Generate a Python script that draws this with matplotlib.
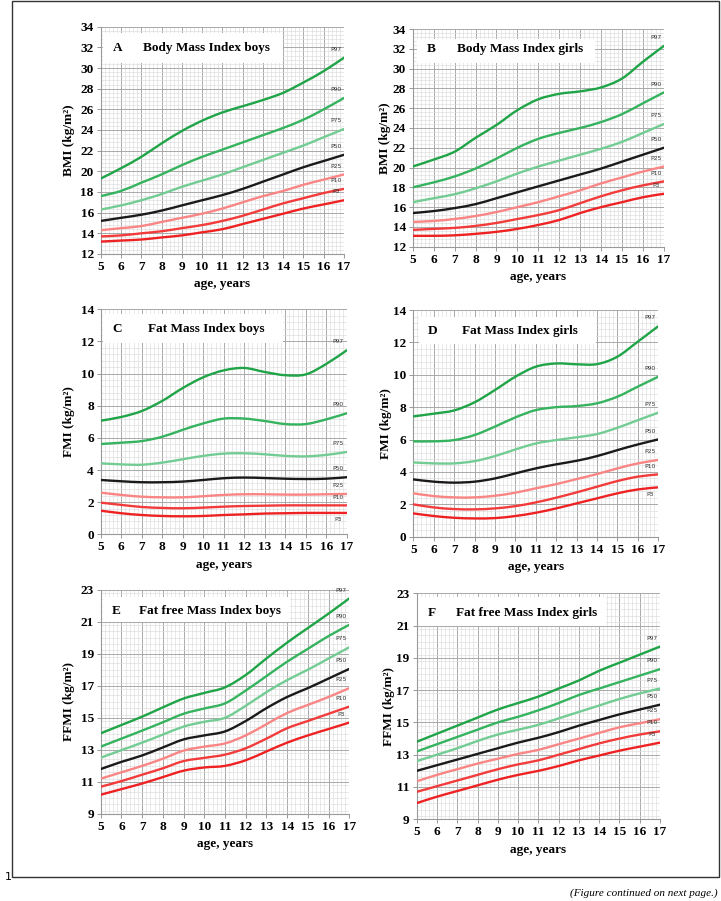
import numpy as np
import matplotlib
matplotlib.use("Agg")
import matplotlib.pyplot as plt
from matplotlib.path import Path
from matplotlib.patches import PathPatch, Rectangle
from matplotlib.ticker import MultipleLocator

# ---------------- data ----------------
ages = [5, 6, 7, 8, 9, 10, 11, 12, 13, 14, 15, 16, 17]
percentiles = ["P97", "P90", "P75", "P50", "P25", "P10", "P3"]

bmi_boys = {
    "P97": [19.3, 20.3, 21.4, 22.7, 23.9, 24.9, 25.7, 26.3, 26.9, 27.6, 28.6, 29.7, 31.0],
    "P90": [17.6, 18.1, 18.9, 19.7, 20.6, 21.4, 22.1, 22.8, 23.5, 24.2, 25.0, 26.0, 27.1],
    "P75": [16.3, 16.7, 17.2, 17.8, 18.5, 19.1, 19.7, 20.4, 21.1, 21.8, 22.5, 23.3, 24.1],
    "P50": [15.2, 15.5, 15.8, 16.2, 16.7, 17.2, 17.7, 18.3, 19.0, 19.7, 20.4, 21.0, 21.6],
    "P25": [14.3, 14.5, 14.7, 15.1, 15.5, 15.9, 16.4, 17.0, 17.6, 18.1, 18.7, 19.2, 19.7],
    "P10": [13.7, 13.8, 14.0, 14.2, 14.5, 14.8, 15.2, 15.7, 16.3, 16.9, 17.4, 17.9, 18.3],
    "P3":  [13.2, 13.3, 13.4, 13.6, 13.8, 14.1, 14.4, 14.9, 15.4, 15.9, 16.4, 16.8, 17.2],
}
bmi_girls = {
    "P97": [20.1, 20.8, 21.6, 23.0, 24.3, 25.8, 26.9, 27.45, 27.7, 28.1, 29.0, 30.7, 32.3],
    "P90": [18.0, 18.5, 19.1, 19.9, 20.9, 22.0, 22.9, 23.5, 24.0, 24.6, 25.4, 26.5, 27.6],
    "P75": [16.5, 16.9, 17.3, 17.9, 18.6, 19.4, 20.1, 20.7, 21.3, 21.9, 22.6, 23.5, 24.4],
    "P50": [15.4, 15.6, 15.9, 16.3, 16.9, 17.5, 18.1, 18.7, 19.3, 19.9, 20.6, 21.3, 22.0],
    "P25": [14.5, 14.6, 14.8, 15.1, 15.5, 16.0, 16.5, 17.1, 17.7, 18.4, 19.0, 19.6, 20.1],
    "P10": [13.7, 13.8, 13.9, 14.1, 14.4, 14.8, 15.2, 15.7, 16.4, 17.1, 17.7, 18.2, 18.6],
    "P3":  [13.1, 13.1, 13.15, 13.3, 13.5, 13.8, 14.2, 14.7, 15.4, 16.0, 16.5, 17.0, 17.35],
}
fmi_boys = {
    "P97": [7.07, 7.3, 7.67, 8.3, 9.1, 9.77, 10.2, 10.35, 10.1, 9.9, 9.95, 10.6, 11.45],
    "P90": [5.62, 5.7, 5.8, 6.07, 6.5, 6.9, 7.2, 7.2, 7.05, 6.86, 6.86, 7.15, 7.53],
    "P75": [4.42, 4.35, 4.33, 4.46, 4.67, 4.88, 5.02, 5.04, 4.98, 4.88, 4.85, 4.94, 5.12],
    "P50": [3.38, 3.3, 3.24, 3.24, 3.28, 3.38, 3.49, 3.53, 3.5, 3.46, 3.44, 3.46, 3.55],
    "P25": [2.59, 2.45, 2.34, 2.3, 2.3, 2.37, 2.45, 2.49, 2.49, 2.47, 2.47, 2.49, 2.51],
    "P10": [1.97, 1.83, 1.7, 1.64, 1.62, 1.66, 1.72, 1.76, 1.78, 1.8, 1.8, 1.8, 1.8],
    "P3":  [1.47, 1.31, 1.2, 1.14, 1.12, 1.14, 1.2, 1.24, 1.29, 1.31, 1.33, 1.33, 1.33],
}
fmi_girls = {
    "P97": [7.43, 7.6, 7.8, 8.3, 9.06, 9.88, 10.5, 10.7, 10.65, 10.66, 11.12, 12.05, 13.0],
    "P90": [5.89, 5.89, 5.97, 6.28, 6.8, 7.37, 7.82, 8.0, 8.07, 8.24, 8.65, 9.27, 9.88],
    "P75": [4.59, 4.53, 4.53, 4.67, 4.98, 5.39, 5.76, 5.97, 6.14, 6.34, 6.73, 7.2, 7.66],
    "P50": [3.54, 3.4, 3.34, 3.4, 3.6, 3.91, 4.22, 4.47, 4.69, 4.98, 5.35, 5.7, 6.01],
    "P25": [2.68, 2.51, 2.43, 2.43, 2.53, 2.72, 2.99, 3.25, 3.56, 3.87, 4.22, 4.53, 4.74],
    "P10": [2.0, 1.81, 1.71, 1.69, 1.75, 1.89, 2.12, 2.41, 2.74, 3.09, 3.44, 3.71, 3.85],
    "P3":  [1.44, 1.28, 1.17, 1.13, 1.15, 1.28, 1.48, 1.75, 2.06, 2.37, 2.68, 2.92, 3.05],
}
ffmi_boys = {
    "P97": [14.03, 14.55, 15.07, 15.65, 16.2, 16.55, 16.9, 17.67, 18.7, 19.69, 20.6, 21.5, 22.45],
    "P90": [13.2, 13.7, 14.2, 14.72, 15.25, 15.58, 15.9, 16.7, 17.6, 18.5, 19.3, 20.1, 20.8],
    "P75": [12.51, 12.98, 13.45, 13.95, 14.45, 14.75, 15.0, 15.75, 16.6, 17.35, 18.0, 18.7, 19.4],
    "P50": [11.8, 12.25, 12.65, 13.15, 13.65, 13.9, 14.15, 14.8, 15.6, 16.3, 16.85, 17.45, 18.05],
    "P25": [11.2, 11.6, 12.0, 12.45, 12.95, 13.2, 13.4, 13.9, 14.6, 15.3, 15.8, 16.3, 16.85],
    "P10": [10.7, 11.05, 11.45, 11.85, 12.3, 12.5, 12.7, 13.1, 13.7, 14.35, 14.8, 15.25, 15.7],
    "P3":  [10.2, 10.55, 10.9, 11.3, 11.7, 11.9, 12.0, 12.35, 12.9, 13.45, 13.9, 14.3, 14.7],
}
ffmi_girls = {
    "P97": [13.8, 14.3, 14.8, 15.3, 15.8, 16.2, 16.6, 17.1, 17.6, 18.2, 18.7, 19.2, 19.7],
    "P90": [13.2, 13.65, 14.1, 14.55, 15.0, 15.35, 15.75, 16.2, 16.7, 17.1, 17.5, 17.9, 18.3],
    "P75": [12.6, 13.0, 13.4, 13.85, 14.25, 14.55, 14.85, 15.25, 15.65, 16.05, 16.45, 16.8, 17.1],
    "P50": [12.0, 12.35, 12.7, 13.05, 13.4, 13.75, 14.05, 14.4, 14.8, 15.15, 15.5, 15.8, 16.1],
    "P25": [11.35, 11.75, 12.1, 12.45, 12.75, 13.05, 13.3, 13.65, 14.0, 14.35, 14.7, 14.95, 15.2],
    "P10": [10.7, 11.05, 11.4, 11.75, 12.1, 12.4, 12.65, 13.0, 13.35, 13.7, 14.0, 14.25, 14.45],
    "P3":  [10.0, 10.4, 10.75, 11.1, 11.45, 11.75, 12.0, 12.3, 12.65, 12.95, 13.25, 13.5, 13.75],
}

panel_letters = ["A", "B", "C", "D", "E", "F"]
panel_titles = ["Body Mass Index boys", "Body Mass Index girls",
                "Fat Mass Index boys", "Fat Mass Index girls",
                "Fat free Mass Index boys", "Fat free Mass Index girls"]
panel_ylabels = ["BMI (kg/m²)", "BMI (kg/m²)", "FMI (kg/m²)", "FMI (kg/m²)",
                 "FFMI (kg/m²)", "FFMI (kg/m²)"]
panel_data = [bmi_boys, bmi_girls, fmi_boys, fmi_girls, ffmi_boys, ffmi_girls]
panel_ylims = [(12, 34), (12, 34), (0, 14), (0, 14), (9, 23), (9, 23)]

colors = {"P97": "#1fa447", "P90": "#35b35e", "P75": "#72cc93", "P50": "#1a1a1a",
          "P25": "#f98585", "P10": "#f23c3c", "P3": "#ee2222"}

# layout (figure fractions) and title box (axes fractions)
axes_rects = [
    [0.1397, 0.7181, 0.3374, 0.2523],
    [0.5724, 0.7262, 0.3485, 0.2416],
    [0.1397, 0.4070, 0.3412, 0.2497],
    [0.5732, 0.4043, 0.3398, 0.2516],
    [0.1397, 0.0966, 0.3448, 0.2491],
    [0.5779, 0.0907, 0.3375, 0.2508],
]
boxes = [  # x0, x1, y0, y1
    (0.010, 0.749, 0.839, 0.971),
    (0.017, 0.725, 0.842, 0.953),
    (0.011, 0.740, 0.852, 0.979),
    (0.024, 0.746, 0.850, 0.970),
    (0.010, 0.760, 0.857, 0.966),
    (0.007, 0.780, 0.855, 0.982),
]
text_pos = [  # letter x, title x, y
    (0.071, 0.433, 0.905),
    (0.072, 0.426, 0.907),
    (0.068, 0.431, 0.911),
    (0.079, 0.435, 0.909),
    (0.062, 0.438, 0.906),
    (0.064, 0.452, 0.911),
]
ylabel_pads = [4, 1, 4, 1, 4, 1]

SERIF = "Liberation Serif"


def smooth_path(x, y):
    """Catmull-Rom spline through the points, drawn as cubic Bezier."""
    x = np.asarray(x, float)
    y = np.asarray(y, float)
    pts = np.column_stack([x, y])
    n = len(pts)
    verts = [pts[0]]
    codes = [Path.MOVETO]
    for i in range(n - 1):
        p0 = pts[i - 1] if i > 0 else pts[i]
        p1 = pts[i]
        p2 = pts[i + 1]
        p3 = pts[i + 2] if i + 2 < n else pts[i + 1]
        c1 = p1 + (p2 - p0) / 6.0
        c2 = p2 - (p3 - p1) / 6.0
        verts += [c1, c2, p2]
        codes += [Path.CURVE4] * 3
    return Path(verts, codes)


fig = plt.figure(figsize=(7.21, 9.01), dpi=100)

for k in range(6):
    ax = fig.add_axes(axes_rects[k])
    ymin, ymax = panel_ylims[k]
    ax.set_xlim(5, 17)
    ax.set_ylim(ymin, ymax)
    ax.xaxis.set_major_locator(MultipleLocator(1))
    ax.xaxis.set_minor_locator(MultipleLocator(0.2))
    ax.yaxis.set_major_locator(MultipleLocator(2))
    ax.yaxis.set_minor_locator(MultipleLocator(0.4))
    ax.set_yticks(np.arange(ymin, ymax + 0.01, 2))
    ax.grid(which="major", color="#a9a9a9", lw=0.7)
    ax.grid(which="minor", color="#dcdcdc", lw=0.45)
    ax.set_axisbelow(True)
    for s in ["top", "right"]:
        ax.spines[s].set_visible(False)
    for s in ["left", "bottom"]:
        ax.spines[s].set_color("#999999")
        ax.spines[s].set_linewidth(0.8)
    ax.tick_params(which="major", length=3, color="#999999", width=0.7, pad=2)
    ax.tick_params(which="minor", length=0)
    for lab in ax.get_xticklabels() + ax.get_yticklabels():
        lab.set_fontfamily(SERIF)
        lab.set_fontweight("bold")
        lab.set_fontsize(9.5)
    ax.set_xlabel("age, years", fontfamily=SERIF, fontweight="bold",
                  fontsize=9.5, labelpad=4)
    ax.set_ylabel(panel_ylabels[k], fontfamily=SERIF, fontweight="bold",
                  fontsize=9.5, labelpad=ylabel_pads[k])

    # title box
    x0, x1, y0, y1 = boxes[k]
    ax.add_patch(Rectangle((x0, y0), x1 - x0, y1 - y0, transform=ax.transAxes,
                           facecolor="white", edgecolor="none", zorder=2))
    lx, tx, ty = text_pos[k]
    ax.text(lx, ty, panel_letters[k], transform=ax.transAxes, ha="center",
            va="center", fontfamily=SERIF, fontweight="bold", fontsize=9.5, zorder=3)
    ax.text(tx, ty, panel_titles[k], transform=ax.transAxes, ha="center",
            va="center", fontfamily=SERIF, fontweight="bold", fontsize=9.5, zorder=3)

    data = panel_data[k]
    for p in percentiles:
        vals = data[p]
        path = smooth_path(ages, vals)
        ax.add_patch(PathPatch(path, facecolor="none", edgecolor=colors[p],
                               lw=1.7, transform=ax.transData, zorder=4,
                               capstyle="round", joinstyle="round"))
        below = (p == "P3" and k in (2, 3))
        ax.annotate(p, xy=(ages[-1], vals[-1]), xytext=(-6, -5 if below else 6),
                    textcoords="offset points", ha="center", va="center",
                    fontsize=4.3, color="#333333", zorder=5)

# outer frame and page texts
fig.add_artist(Rectangle((12 / 721, 1 - 877 / 901), 707 / 721, 876 / 901,
                         transform=fig.transFigure, fill=False,
                         edgecolor="#333333", lw=1.0))
fig.text(5 / 721, 1 - 877 / 901, "1", ha="left", va="center", fontsize=8,
         fontfamily="DejaVu Sans")
fig.text(718 / 721, 1 - 893 / 901, "(Figure continued on next page.)",
         ha="right", va="center", fontsize=8, fontfamily=SERIF, style="italic")

fig.savefig("out.png", dpi=100)
